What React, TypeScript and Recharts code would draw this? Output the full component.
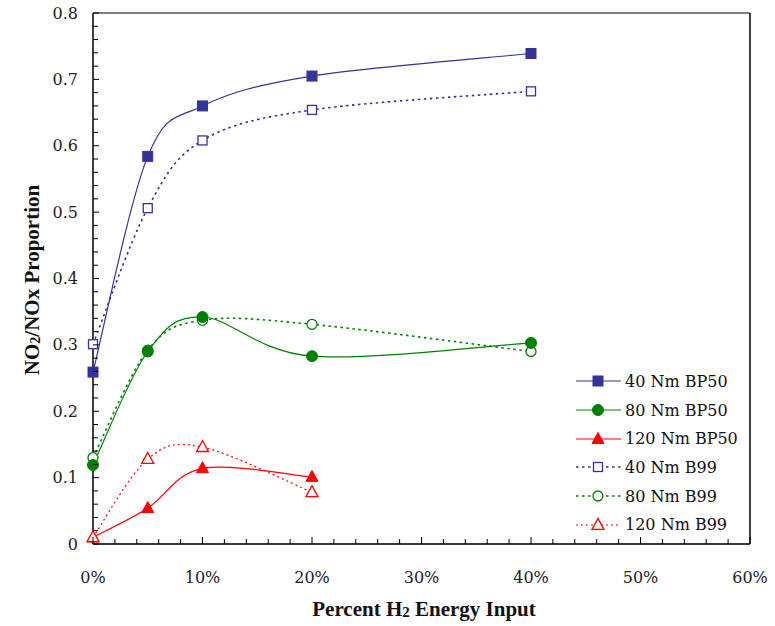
import React from "react";
import { LineChart, Line, XAxis, YAxis, ReferenceLine, Legend, Label } from "recharts";

// percent H2 energy input for each test point
const h2Full = [0, 5, 10, 20, 40];
const h2Short = [0, 5, 10, 20];

// NO2/NOx proportion
const nm40BP50 = [0.259, 0.584, 0.66, 0.705, 0.739];
const nm80BP50 = [0.119, 0.29, 0.342, 0.283, 0.303];
const nm120BP50 = [0.01, 0.054, 0.114, 0.101];
const nm40B99 = [0.301, 0.506, 0.608, 0.654, 0.682];
const nm80B99 = [0.13, 0.292, 0.337, 0.331, 0.29];
const nm120B99 = [0.01, 0.128, 0.146, 0.078];

const xTicks = [0, 2, 4, 6, 8, 10, 12, 14, 16, 18, 20, 22, 24, 26, 28, 30, 32, 34, 36, 38, 40, 42, 44, 46, 48, 50, 52, 54, 56, 58, 60];
const xMajor = [0, 10, 20, 30, 40, 50, 60];
const yTicks = [0, 0.02, 0.04, 0.06, 0.08, 0.1, 0.12, 0.14, 0.16, 0.18, 0.2, 0.22, 0.24, 0.26, 0.28, 0.3, 0.32, 0.34, 0.36, 0.38, 0.4, 0.42, 0.44, 0.46, 0.48, 0.5, 0.52, 0.54, 0.56, 0.58, 0.6, 0.62, 0.64, 0.66, 0.68, 0.7, 0.72, 0.74, 0.76, 0.78, 0.8];

const NAVY = "#333399";
const GREEN = "#008000";
const RED = "#ff0000";
const FONT = "DejaVu Serif";
const TITLE_FONT = "Liberation Serif";

const AXIS_X = 93;
const AXIS_Y = 544;

const toPoints = (xs: number[], ys: number[]) => xs.map((x, i) => ({ x, y: ys[i] }));

type Shape = "square" | "circle" | "triangle";
type Series = { name: string; xs: number[]; ys: number[]; color: string; dash?: string; width: number; shape: Shape; filled: boolean };

const series: Series[] = [
  { name: "40 Nm BP50", xs: h2Full, ys: nm40BP50, color: NAVY, width: 1.2, shape: "square", filled: true },
  { name: "80 Nm BP50", xs: h2Full, ys: nm80BP50, color: GREEN, width: 1.2, shape: "circle", filled: true },
  { name: "120 Nm BP50", xs: h2Short, ys: nm120BP50, color: RED, width: 1.2, shape: "triangle", filled: true },
  { name: "40 Nm B99", xs: h2Full, ys: nm40B99, color: NAVY, dash: "2.5 3.5", width: 1.6, shape: "square", filled: false },
  { name: "80 Nm B99", xs: h2Full, ys: nm80B99, color: GREEN, dash: "2.5 3.5", width: 1.6, shape: "circle", filled: false },
  { name: "120 Nm B99", xs: h2Short, ys: nm120B99, color: RED, dash: "2 3", width: 1.2, shape: "triangle", filled: false },
];

// draw order so the open red triangle sits on top at 0%
const drawOrder = [3, 4, 0, 1, 2, 5];

// Excel-like smoothed line (Catmull-Rom through the points)
const smoothCurve = (context: any) => {
  let pts: number[][] = [];
  return {
    areaStart() {},
    areaEnd() {},
    lineStart() {
      pts = [];
    },
    point(x: number, y: number) {
      pts.push([+x, +y]);
    },
    lineEnd() {
      if (!pts.length) return;
      context.moveTo(pts[0][0], pts[0][1]);
      const t = 1 / 6;
      for (let i = 0; i < pts.length - 1; i++) {
        const p0 = pts[i - 1] || pts[i];
        const p1 = pts[i];
        const p2 = pts[i + 1];
        const p3 = pts[i + 2] || p2;
        context.bezierCurveTo(
          p1[0] + (p2[0] - p0[0]) * t,
          p1[1] + (p2[1] - p0[1]) * t,
          p2[0] - (p3[0] - p1[0]) * t,
          p2[1] - (p3[1] - p1[1]) * t,
          p2[0],
          p2[1]
        );
      }
    },
  };
};

function Marker({ cx, cy, shape, filled, color }: { cx: number; cy: number; shape: Shape; filled: boolean; color: string }) {
  const fill = filled ? color : "#fff";
  const sw = filled ? 1 : 1.3;
  if (shape === "square") {
    const s = filled ? 10 : 9;
    return <rect x={cx - s / 2} y={cy - s / 2} width={s} height={s} fill={fill} stroke={color} strokeWidth={sw} />;
  }
  if (shape === "circle") {
    return <circle cx={cx} cy={cy} r={filled ? 5.5 : 5} fill={fill} stroke={color} strokeWidth={sw} />;
  }
  const h = 11;
  const w = 12;
  return (
    <polygon
      points={`${cx},${cy - h * 0.6} ${cx + w / 2},${cy + h * 0.4} ${cx - w / 2},${cy + h * 0.4}`}
      fill={fill}
      stroke={color}
      strokeWidth={sw}
    />
  );
}

const isMajor = (v: number, step: number) => Math.abs(v / step - Math.round(v / step)) < 1e-6;

function YTick(props: any) {
  const { y, payload } = props;
  const v = payload.value as number;
  const major = isMajor(v, 0.1);
  return (
    <g>
      <line x1={AXIS_X} x2={AXIS_X + (major ? 6 : 5)} y1={y} y2={y} stroke="#000" strokeWidth={1} />
      {major && (
        <text x={78} y={y} textAnchor="end" dominantBaseline="central" fontFamily={FONT} fontSize={16} fill="#222">
          {v === 0 ? "0" : v.toFixed(1)}
        </text>
      )}
    </g>
  );
}

function XTick(props: any) {
  const { x, payload } = props;
  const v = payload.value as number;
  const major = xMajor.includes(v);
  return (
    <g>
      <line x1={x} x2={x} y1={AXIS_Y} y2={AXIS_Y - (major ? 7 : 5)} stroke="#000" strokeWidth={1} />
      {major && (
        <text x={x} y={577} textAnchor="middle" dominantBaseline="central" fontFamily={FONT} fontSize={16} fill="#222">
          {`${v}%`}
        </text>
      )}
    </g>
  );
}

const XTitle = () => (
  <text x={424} y={609} textAnchor="middle" dominantBaseline="central" fontFamily={TITLE_FONT} fontSize={21} fontWeight="bold" fill="#111">
    Percent H<tspan fontSize={15} dy={3}>2</tspan>
    <tspan dy={-3}> Energy Input</tspan>
  </text>
);

const YTitle = () => (
  <text
    x={32}
    y={280}
    transform="rotate(-90 32 280)"
    textAnchor="middle"
    dominantBaseline="central"
    fontFamily={TITLE_FONT}
    fontSize={21}
    fontWeight="bold"
    fill="#111"
  >
    NO<tspan fontSize={14} dy={3}>2</tspan>
    <tspan dy={-3}>/NOx Proportion</tspan>
  </text>
);

function LegendBox() {
  return (
    <div style={{ fontFamily: FONT, fontSize: 16, color: "#111" }}>
      {series.map((s) => (
        <div key={s.name} style={{ display: "flex", alignItems: "center", height: 28.7 }}>
          <svg width={48} height={20} style={{ marginRight: 2 }}>
            <line x1={1} x2={46} y1={10} y2={10} stroke={s.color} strokeWidth={s.width} strokeDasharray={s.dash} />
            <Marker cx={23} cy={10} shape={s.shape} filled={s.filled} color={s.color} />
          </svg>
          <span>{s.name}</span>
        </div>
      ))}
    </div>
  );
}

export default function App() {
  return (
    <div style={{ position: "absolute", left: 0, top: 0, width: 775, height: 626, background: "#fff" }}>
      <LineChart width={775} height={626} margin={{ top: 13, right: 25, bottom: 0, left: 0 }}>
        <XAxis
          type="number"
          dataKey="x"
          domain={[0, 60]}
          ticks={xTicks}
          interval={0}
          height={82}
          tickLine={false}
          axisLine={{ stroke: "#3a3a3a", strokeWidth: 2 }}
          tick={<XTick />}
          allowDuplicatedCategory={false}
        >
          <Label content={<XTitle />} />
        </XAxis>
        <YAxis
          type="number"
          domain={[0, 0.8]}
          ticks={yTicks}
          interval={0}
          width={93}
          tickLine={false}
          axisLine={{ stroke: "#000", strokeWidth: 1.5 }}
          tick={<YTick />}
        >
          <Label content={<YTitle />} />
        </YAxis>
        <ReferenceLine y={0.8} stroke="#808080" strokeWidth={2} />
        <ReferenceLine x={60} stroke="#000" strokeWidth={1.5} />
        {drawOrder.map((i) => {
          const s = series[i];
          return (
            <Line
              key={s.name}
              name={s.name}
              data={toPoints(s.xs, s.ys)}
              dataKey="y"
              type={smoothCurve as any}
              stroke={s.color}
              strokeWidth={s.width}
              strokeDasharray={s.dash}
              isAnimationActive={false}
              dot={(p: any) => <Marker key={`${s.name}-${p.index}`} cx={p.cx} cy={p.cy} shape={s.shape} filled={s.filled} color={s.color} />}
              activeDot={false}
            />
          );
        })}
        <Legend
          layout="vertical"
          align="center"
          verticalAlign="middle"
          wrapperStyle={{ position: "absolute", left: 575, top: 367, width: 175 }}
          content={<LegendBox />}
        />
      </LineChart>
    </div>
  );
}
